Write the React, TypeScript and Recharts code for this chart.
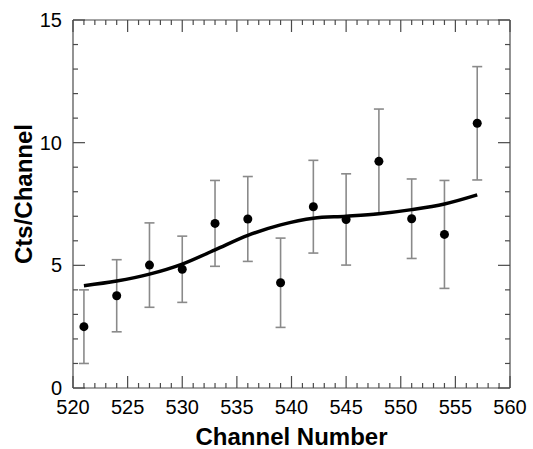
import React from "react";
import {
  ComposedChart,
  Scatter,
  Line,
  XAxis,
  YAxis,
  ErrorBar,
  Label,
} from "recharts";

// measured points (channel, counts, 1-sigma error)
const channels = [521, 524, 527, 530, 533, 536, 539, 542, 545, 548, 551, 554, 557];
const counts = [2.5, 3.76, 5.01, 4.84, 6.71, 6.89, 4.29, 7.39, 6.87, 9.24, 6.9, 6.26, 10.79];
const errors = [1.5, 1.47, 1.72, 1.35, 1.75, 1.73, 1.82, 1.89, 1.86, 2.13, 1.62, 2.2, 2.31];

// fitted curve
const fitChannels = [521, 524, 527, 530, 533, 536, 539, 542, 545, 548, 551, 554, 557];
const fitValues = [4.17, 4.36, 4.64, 5.05, 5.63, 6.22, 6.65, 6.92, 7.0, 7.1, 7.27, 7.5, 7.87];

const xMajor = [520, 525, 530, 535, 540, 545, 550, 555, 560];
const yMajor = [0, 5, 10, 15];

const xTicks: number[] = [];
for (let v = 520; v <= 560; v++) xTicks.push(v);
const yTicks: number[] = [];
for (let v = 0; v <= 15; v++) yTicks.push(v);

const points = channels.map((x, i) => ({ x, y: counts[i], err: errors[i] }));
const fit = fitChannels.map((x, i) => ({ x, y: fitValues[i] }));

const FONT = "'Liberation Sans', Arial, Helvetica, sans-serif";
const AXIS = "#4a4a4a";
const MAJOR = 12;
const MINOR = 5;

const BottomTick = (props: any) => {
  const { x, y, payload } = props;
  const major = xMajor.includes(payload.value);
  return (
    <g>
      <line x1={x} x2={x} y1={y} y2={y - (major ? MAJOR : MINOR)} stroke={AXIS} strokeWidth={1.2} />
      {major && (
        <text x={x} y={y + 26} textAnchor="middle" fontSize={20} fontFamily={FONT} fill="#000">
          {payload.value}
        </text>
      )}
    </g>
  );
};

const TopTick = (props: any) => {
  const { x, y, payload } = props;
  const major = xMajor.includes(payload.value);
  return <line x1={x} x2={x} y1={y} y2={y + (major ? MAJOR : MINOR)} stroke={AXIS} strokeWidth={1.2} />;
};

const LeftTick = (props: any) => {
  const { x, y, payload } = props;
  const major = yMajor.includes(payload.value);
  return (
    <g>
      <line x1={x} x2={x + (major ? MAJOR : MINOR)} y1={y} y2={y} stroke={AXIS} strokeWidth={1.2} />
      {major && (
        <text x={x - 11} y={y + 7} textAnchor="end" fontSize={20} fontFamily={FONT} fill="#000">
          {payload.value}
        </text>
      )}
    </g>
  );
};

const RightTick = (props: any) => {
  const { x, y, payload } = props;
  const major = yMajor.includes(payload.value);
  return <line x1={x} x2={x - (major ? MAJOR : MINOR)} y1={y} y2={y} stroke={AXIS} strokeWidth={1.2} />;
};

const Dot = (props: any) => <circle cx={props.cx} cy={props.cy} r={4.5} fill="#000" />;

export default function App() {
  return (
    <div style={{ position: "absolute", left: 0, top: 0, background: "#fff" }}>
      <ComposedChart width={533} height={449} margin={{ top: 0, right: 0, bottom: 0, left: 0 }}>
        <XAxis
          xAxisId="b"
          dataKey="x"
          type="number"
          domain={[520, 560]}
          ticks={xTicks}
          interval={0}
          height={61}
          tickSize={0}
          tickMargin={0}
          tickLine={false}
          tick={<BottomTick />}
          axisLine={{ stroke: AXIS, strokeWidth: 1.2 }}
          allowDataOverflow
        >
          <Label
            content={(p: any) => {
              const vb = p.viewBox;
              return (
                <text
                  x={vb.x + vb.width / 2}
                  y={445}
                  textAnchor="middle"
                  fontSize={24}
                  fontWeight="bold"
                  fontFamily={FONT}
                  fill="#000"
                >
                  Channel Number
                </text>
              );
            }}
          />
        </XAxis>
        <XAxis
          xAxisId="t"
          orientation="top"
          dataKey="x"
          type="number"
          domain={[520, 560]}
          ticks={xTicks}
          interval={0}
          height={20}
          tickSize={0}
          tickMargin={0}
          tickLine={false}
          tick={<TopTick />}
          axisLine={{ stroke: AXIS, strokeWidth: 1.2 }}
          allowDataOverflow
        />
        <YAxis
          yAxisId="l"
          type="number"
          domain={[0, 15]}
          ticks={yTicks}
          interval={0}
          width={73}
          tickSize={0}
          tickMargin={0}
          tickLine={false}
          tick={<LeftTick />}
          axisLine={{ stroke: AXIS, strokeWidth: 1.2 }}
          allowDataOverflow
        >
          <Label
            content={() => (
              <text
                x={32}
                y={194}
                transform="rotate(-90 32 194)"
                textAnchor="middle"
                fontSize={24}
                fontWeight="bold"
                fontFamily={FONT}
                fill="#000"
              >
                Cts/Channel
              </text>
            )}
          />
        </YAxis>
        <YAxis
          yAxisId="r"
          orientation="right"
          type="number"
          domain={[0, 15]}
          ticks={yTicks}
          interval={0}
          width={23}
          tickSize={0}
          tickMargin={0}
          tickLine={false}
          tick={<RightTick />}
          axisLine={{ stroke: AXIS, strokeWidth: 1.2 }}
          allowDataOverflow
        />
        <Scatter
          xAxisId="b"
          yAxisId="l"
          data={points}
          dataKey="y"
          shape={<Dot />}
          isAnimationActive={false}
        >
          <ErrorBar dataKey="err" direction="y" width={5} stroke="#8a8a8a" strokeWidth={1.6} isAnimationActive={false} />
        </Scatter>
        <Line
          xAxisId="b"
          yAxisId="l"
          data={fit}
          dataKey="y"
          type="monotone"
          stroke="#000"
          strokeWidth={3.5}
          dot={false}
          activeDot={false}
          isAnimationActive={false}
        />
      </ComposedChart>
    </div>
  );
}
